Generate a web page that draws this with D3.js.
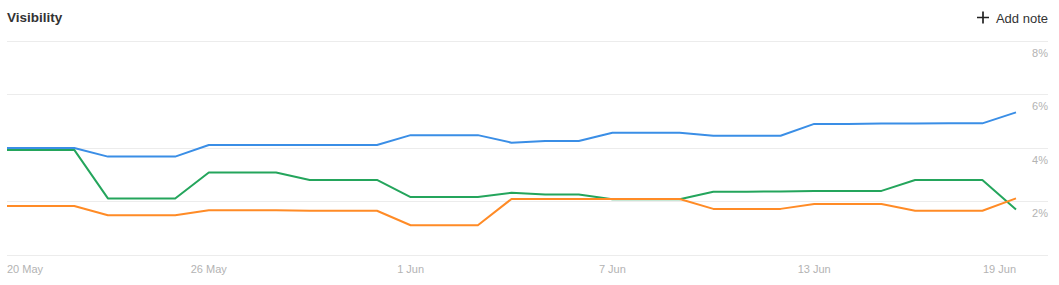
<!DOCTYPE html>
<html>
<head>
<meta charset="utf-8">
<script src="https://cdn.jsdelivr.net/npm/d3@7"></script>
<style>
  body { margin: 0; background: #fff; font-family: "Liberation Sans", Arial, sans-serif; }
</style>
</head>
<body>
<svg id="chart"></svg>
<script>
// one point per day, 20 May .. 19 Jun
const startDate = new Date(2024, 4, 20);
const tickDates = ["20 May", "26 May", "1 Jun", "7 Jun", "13 Jun", "19 Jun"];
const yTicks = [0, 2, 4, 6, 8];

// visibility in %
const blue = [3.99, 3.99, 3.99, 3.67, 3.67, 3.67, 4.10, 4.10, 4.10, 4.10, 4.10, 4.10,
  4.47, 4.47, 4.47, 4.19, 4.25, 4.25, 4.56, 4.56, 4.56, 4.45, 4.45, 4.45,
  4.89, 4.89, 4.90, 4.90, 4.91, 4.91, 5.32];
const green = [3.92, 3.92, 3.92, 2.11, 2.11, 2.11, 3.08, 3.08, 3.08, 2.80, 2.80, 2.80,
  2.16, 2.16, 2.16, 2.32, 2.26, 2.26, 2.08, 2.08, 2.08, 2.36, 2.36, 2.37,
  2.39, 2.39, 2.39, 2.80, 2.80, 2.80, 1.70];
const orange = [1.83, 1.83, 1.83, 1.48, 1.48, 1.48, 1.67, 1.67, 1.67, 1.65, 1.65, 1.65,
  1.11, 1.11, 1.11, 2.09, 2.09, 2.09, 2.09, 2.09, 2.09, 1.72, 1.72, 1.72,
  1.90, 1.90, 1.90, 1.65, 1.65, 1.65, 2.11];

const series = [
  { name: "blue", color: "#3a8ee6", values: blue },
  { name: "green", color: "#24a55c", values: green },
  { name: "orange", color: "#ff8b26", values: orange }
];

const width = 1059, height = 285;
const plotLeft = 7, plotRight = 1016, gridRight = 1048;
const plotTop = 40.5, plotBottom = 255;

const svg = d3.select("#chart").attr("width", width).attr("height", height);

const dayMs = 24 * 3600 * 1000;
const dates = blue.map((d, i) => new Date(startDate.getTime() + i * dayMs));

const x = d3.scaleTime()
  .domain([dates[0], dates[dates.length - 1]])
  .range([plotLeft, plotRight]);
const y = d3.scaleLinear().domain([0, 8]).range([plotBottom, plotTop]);

// title + add note
svg.append("text")
  .attr("x", 7).attr("y", 22)
  .style("font-size", "13.5px").style("font-weight", "bold").style("fill", "#333")
  .text("Visibility");

svg.append("path")
  .attr("d", "M977,17.5h12M983,11.5v12")
  .attr("stroke", "#222").attr("stroke-width", 1.7);
svg.append("text")
  .attr("x", 1048).attr("y", 22.5)
  .attr("text-anchor", "end")
  .style("font-size", "13px").style("fill", "#333")
  .text("Add note");

// grid
svg.append("g").selectAll("line")
  .data(yTicks)
  .enter().append("line")
  .attr("x1", plotLeft).attr("x2", gridRight)
  .attr("y1", d => Math.round(y(d)) + 0.5)
  .attr("y2", d => Math.round(y(d)) + 0.5)
  .attr("stroke", "#ececec");

svg.append("g").selectAll("text")
  .data(yTicks.filter(d => d > 0))
  .enter().append("text")
  .attr("x", gridRight).attr("y", d => y(d) + 16)
  .attr("text-anchor", "end")
  .style("font-size", "11px").style("fill", "#b3b3b3")
  .text(d => d + "%");

// x labels
svg.append("g").selectAll("text")
  .data(tickDates)
  .enter().append("text")
  .attr("x", (d, i) => x(dates[i * 6]))
  .attr("y", 273)
  .attr("text-anchor", (d, i) => i === 0 ? "start" : (i === tickDates.length - 1 ? "end" : "middle"))
  .style("font-size", "11px").style("fill", "#b3b3b3")
  .text(d => d);

// lines
const line = d3.line()
  .x((d, i) => x(dates[i]))
  .y(d => y(d));

svg.append("g").selectAll("path")
  .data(series)
  .enter().append("path")
  .attr("d", d => line(d.values))
  .attr("fill", "none")
  .attr("stroke", d => d.color)
  .attr("stroke-width", 2)
  .attr("stroke-linejoin", "round");
</script>
</body>
</html>
